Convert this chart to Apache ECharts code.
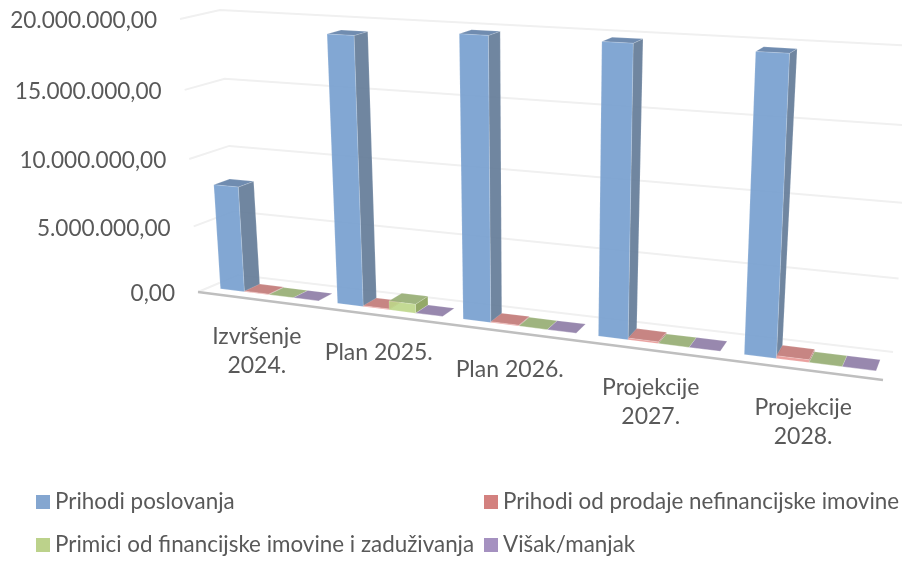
<!DOCTYPE html>
<html>
<head>
<meta charset="utf-8">
<style>html,body{margin:0;padding:0;background:#fff}#main{width:902px;height:565px}</style>
<script src="https://cdn.jsdelivr.net/npm/echarts@6/dist/echarts.min.js"></script>
</head>
<body>
<div id="main"></div>
<script>
var categories = ['Izvršenje\n2024.', 'Plan 2025.', 'Plan 2026.', 'Projekcije\n2027.', 'Projekcije\n2028.'];
var yTicks = [0, 5000000, 10000000, 15000000, 20000000];
var yTickLabels = ['0,00', '5.000.000,00', '10.000.000,00', '15.000.000,00', '20.000.000,00'];
var prihodiPoslovanja = [7900000, 19300000, 19800000, 19800000, 19700000];
var prihodiProdaje = [40000, 60000, 60000, 120000, 180000];
var primici = [0, 650000, 0, 0, 0];
var visak = [0, 0, 0, 0, 0];

var names = ['Prihodi poslovanja', 'Prihodi od prodaje nefinancijske imovine', 'Primici od financijske imovine i zaduživanja', 'Višak/manjak'];
var values = [prihodiPoslovanja, prihodiProdaje, primici, visak];
var legendColors = ['#84a6d0', '#d3817f', '#bcd28b', '#a591c0'];
var frontColors = ['rgba(120,160,208,0.93)', 'rgba(232,150,148,0.9)', 'rgba(188,214,136,0.9)', 'rgba(165,145,192,0.9)'];
var sideColors = ['rgba(100,124,152,0.92)', 'rgba(170,100,98,0.9)', 'rgba(136,160,88,0.9)', 'rgba(118,100,146,0.9)'];
var topColors = ['rgba(104,134,172,0.95)', 'rgba(196,126,124,0.95)', 'rgba(154,176,120,0.95)', 'rgba(146,130,170,0.95)'];

var fontName = 'Lato, "Open Sans", sans-serif';
var textColor = '#595959';
var GL = 198, GT = 19, GW = 685, GH = 273;

// corners of the tilted box: front / back, bottom / top, left / right
var F00 = [198, 292], F10 = [883, 380], F01 = [180, 19], F11 = [901, 58];
var B00 = [238, 275], B10 = [893, 352], B01 = [220, 10], B11 = [916, 46];
var D0 = 0.28, D1 = 0.68;
var BAR = 0.21;

function lerp(a, b, t) { return a + (b - a) * t; }
function warpU(u) { return 0.83 * u / (1 - 0.17 * u); }   // right side is closer
function warpV(v) { return 0.95 * v / (1 - 0.05 * v); }   // top is closer

// grid pixel + depth -> tilted picture pixel
function project(px, py, d) {
    var u = warpU((px - GL) / GW), v = warpV((GT + GH - py) / GH);
    var r = [];
    for (var k = 0; k < 2; k++) {
        var f = lerp(lerp(F00[k], F10[k], u), lerp(F01[k], F11[k], u), v);
        var b = lerp(lerp(B00[k], B10[k], u), lerp(B01[k], B11[k], u), v);
        r.push(lerp(f, b, d));
    }
    return r;
}

function poly(points, fill) {
    return { type: 'polygon', shape: { points: points }, style: { fill: fill, stroke: 'rgba(255,255,255,0.25)', lineWidth: 0.6 } };
}

function barItem(s) {
    return function (params, api) {
        var i = api.value(0), c = api.coord([i, api.value(1)]), base = api.coord([i, 0]);
        var w = api.size([1, 0])[0];
        var x0 = c[0] - w * 0.4 + s * w * BAR, x1 = x0 + w * BAR;
        var y = c[1], y0 = base[1];
        return {
            type: 'group',
            children: [
                poly([project(x1, y0, D0), project(x1, y0, D1), project(x1, y, D1), project(x1, y, D0)], sideColors[s]),
                poly([project(x0, y, D0), project(x1, y, D0), project(x1, y, D1), project(x0, y, D1)], topColors[s]),
                poly([project(x0, y0, D0), project(x1, y0, D0), project(x1, y, D0), project(x0, y, D0)], frontColors[s])
            ]
        };
    };
}

function wallItem(params, api) {
    var v = api.value(0);
    var y = api.coord([0, v])[1];
    var a = project(GL, y, 0), b = project(GL, y, 1), e = project(GL + GW, y, 1);
    return {
        type: 'group',
        children: [
            { type: 'polyline', shape: { points: [a, b, e] }, style: { fill: 'none', stroke: '#f0f0f0', lineWidth: 2 } },
            { type: 'text', style: { text: yTickLabels[params.dataIndex], x: a[0] - 23, y: a[1] + 2, align: 'right', verticalAlign: 'middle', fill: textColor, fontSize: 22.6, fontFamily: fontName } }
        ]
    };
}

function floorItem(params, api) {
    return {
        type: 'polyline',
        shape: { points: [project(GL, GT + GH, 0), project(GL + GW, GT + GH, 0)] },
        style: { fill: 'none', stroke: '#bfbfbf', lineWidth: 2.5 }
    };
}

function labelItem(params, api) {
    var c = api.coord([params.dataIndex, 0]);
    var p = project(c[0], c[1], 0);
    return {
        type: 'text',
        style: { text: categories[params.dataIndex], x: p[0] + 1, y: p[1] + 23, align: 'center', verticalAlign: 'top', lineHeight: 29, fill: textColor, fontSize: 23, fontFamily: fontName }
    };
}

var series = [
    { type: 'custom', renderItem: wallItem, data: yTicks.map(function (v) { return [v]; }), silent: true, z: 1 },
    { type: 'custom', renderItem: floorItem, data: [[0]], silent: true, z: 1 },
    { type: 'custom', renderItem: labelItem, data: categories.map(function (c, i) { return [i]; }), silent: true, z: 1 }
];
names.forEach(function (name, s) {
    series.push({
        type: 'custom',
        name: name,
        renderItem: barItem(s),
        itemStyle: { color: legendColors[s] },
        data: values[s].map(function (v, i) { return [i, v]; }),
        z: 2 + s
    });
});

var legendBase = { orient: 'vertical', top: 491, itemWidth: 14, itemHeight: 14, itemGap: 21, icon: 'rect', padding: 0, selectedMode: false, textStyle: { color: textColor, fontSize: 22.4, fontFamily: fontName } };

var myChart = echarts.init(document.getElementById('main'));
myChart.setOption({
    animation: false,
    backgroundColor: '#fff',
    grid: { left: GL, top: GT, width: GW, height: GH },
    xAxis: { type: 'category', data: categories, show: false },
    yAxis: { type: 'value', min: 0, max: 20000000, interval: 5000000, show: false },
    legend: [
        Object.assign({ data: [names[0], names[2]], left: 36 }, legendBase),
        Object.assign({ data: [names[1], names[3]], left: 484 }, legendBase)
    ],
    series: series
});
</script>
</body>
</html>
